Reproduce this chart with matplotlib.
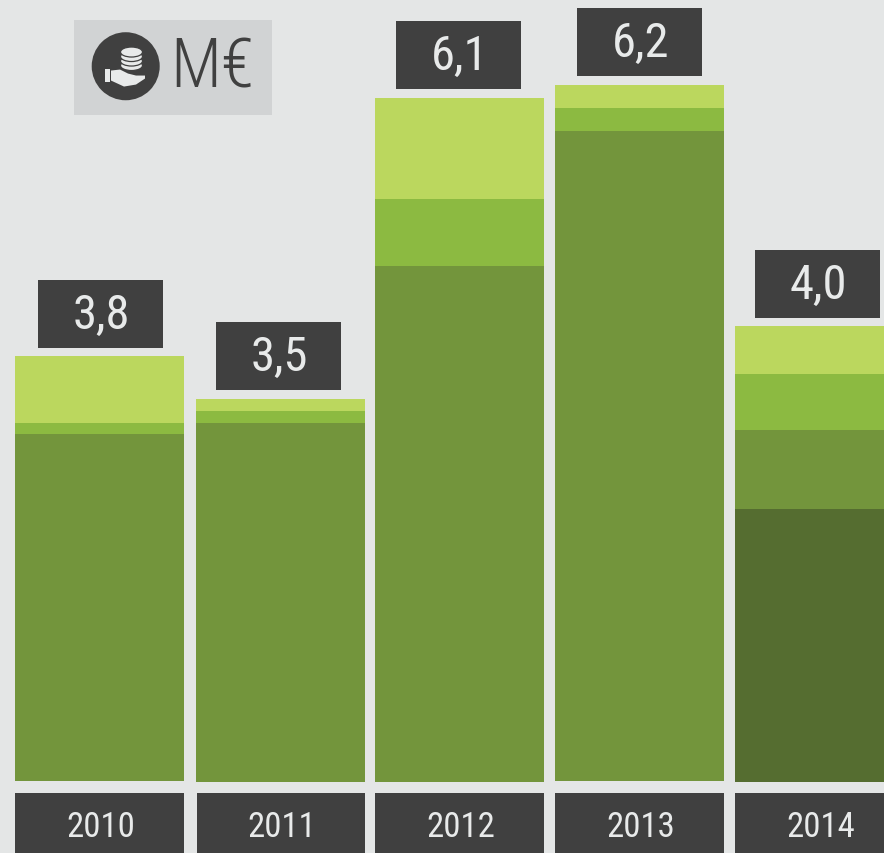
import matplotlib
matplotlib.use("Agg")
import matplotlib.pyplot as plt
from matplotlib.patches import Rectangle, Circle, Ellipse, Polygon

# Data, M EUR
years = ["2010", "2011", "2012", "2013", "2014"]
totals = ["3,8", "3,5", "6,1", "6,2", "4,0"]
dark = [0.0, 0.0, 0.0, 0.0, 2.438]
mid = [3.098, 3.205, 4.607, 5.804, 0.705]
green = [0.098, 0.107, 0.598, 0.205, 0.500]
light = [0.598, 0.107, 0.902, 0.205, 0.429]

# Layout (pixels)
W, H = 884, 853
PX_PER_UNIT = 112
BASE = 782
bar_left = [15, 196, 375, 555, 735]
bar_width = 169
box_left = [38, 216, 396, 577, 755]
box_gap = [8, 9, 9, 9, 8]
year_left = [15, 197, 375, 555, 735]
year_width = [169, 168, 169, 169, 169]
base_px = [781, 782, 782, 781, 782]

COL_BG = "#E4E6E6"
COL_BOX = "#404040"
COL_TXT = "#E8EAEA"
COLS = ["#556D30", "#73953C", "#8CBA41", "#BBD75E"]
NARROW = ["Roboto Condensed", "Roboto", "DejaVu Sans"]


def py(p):
    return (BASE - p) / PX_PER_UNIT


fig = plt.figure(figsize=(W / 100, (H + 0.5) / 100), dpi=100, facecolor=COL_BG)
ax = fig.add_axes([0, 0, 1, 1])
ax.set_xlim(0, W)
ax.set_ylim(py(H), py(0))
ax.axis("off")

for i, year in enumerate(years):
    bottom = py(base_px[i])
    for vals, col in zip([dark, mid, green, light], COLS):
        if vals[i] > 0:
            ax.bar(bar_left[i], vals[i], bottom=bottom, width=bar_width,
                   align="edge", color=col, linewidth=0)
            bottom += vals[i]

    # value box sits just above the bar
    box_y = bottom + box_gap[i] / PX_PER_UNIT
    ax.add_patch(Rectangle((box_left[i], box_y), 125, 68 / PX_PER_UNIT,
                           color=COL_BOX, linewidth=0))
    ax.text(box_left[i] + 63.5, box_y + 32 / PX_PER_UNIT, totals[i], color=COL_TXT,
            fontsize=35, family=NARROW, ha="center", va="center")

    # year box
    ax.add_patch(Rectangle((year_left[i], py(H)), year_width[i], 60 / PX_PER_UNIT,
                           color=COL_BOX, linewidth=0))
    ax.text(year_left[i] + year_width[i] / 2 + 1, py(827.5), year, color=COL_TXT,
            fontsize=25, family=NARROW, ha="center", va="center")

# M EUR badge, drawn on a pixel overlay
ov = fig.add_axes([0, 0, 1, 1])
ov.set_xlim(0, W)
ov.set_ylim(H, 0)
ov.axis("off")
ov.patch.set_alpha(0)
ov.add_patch(Rectangle((74, 20), 198, 95, color="#D1D3D4", linewidth=0))
ov.add_patch(Circle((125.7, 66.7), 34, color=COL_BOX, linewidth=0))
for cy in [66, 61.5, 57, 52.5]:
    ov.add_patch(Ellipse((131.5, cy), 22, 10, facecolor=COL_TXT, edgecolor=COL_BOX, linewidth=0.9))
ov.add_patch(Rectangle((105, 69), 5, 13, color=COL_TXT, linewidth=0))
ov.add_patch(Polygon([(111, 71), (120, 70), (128, 74), (136, 76), (145, 76), (145, 79),
                      (136, 85), (124, 87), (111, 81)], color=COL_TXT, linewidth=0))
ov.text(170, 69, "M€", color=COL_BOX, fontsize=49, family=["Roboto Condensed", "Open Sans", "DejaVu Sans"],
        weight="light", ha="left", va="center")

fig.savefig("out.png", dpi=100, facecolor=COL_BG)
